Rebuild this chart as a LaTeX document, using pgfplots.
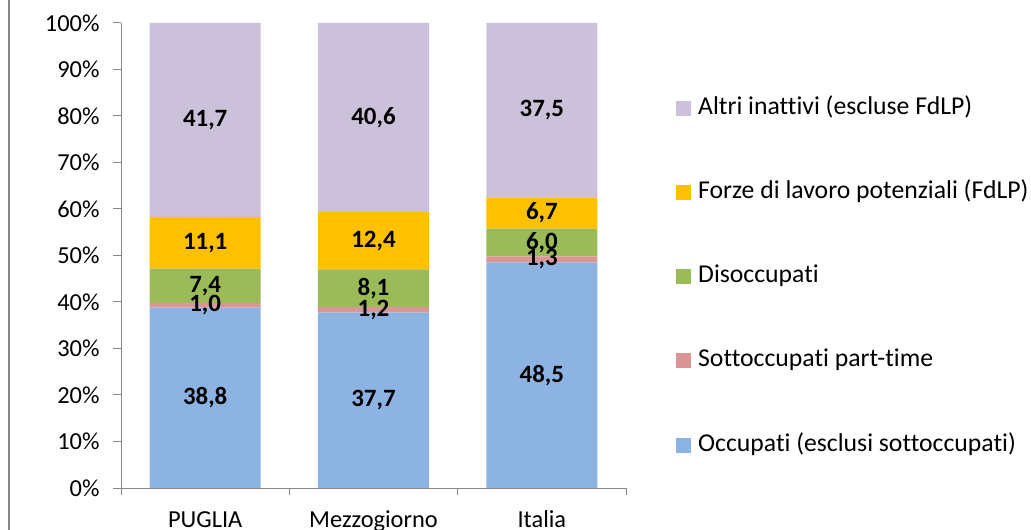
\documentclass[border=0pt]{standalone}
\usepackage{pgfplots}
\pgfplotsset{compat=1.18}
\usepackage{fontspec}
\setmainfont{Carlito}[Ligatures={NoCommon}]
\definecolor{cOcc}{HTML}{8DB3E2}
\definecolor{cSot}{HTML}{DA9694}
\definecolor{cDis}{HTML}{9BBB59}
\definecolor{cFdl}{HTML}{FFC000}
\definecolor{cAlt}{HTML}{CCC1DA}
\definecolor{axgray}{HTML}{868686}
\begin{document}
\begin{tikzpicture}
\useasboundingbox (0,0) rectangle (1031bp,530bp);
\draw[color=axgray, line width=1.3bp] (9bp,0) -- (9bp,530bp);
\begin{axis}[
  at={(121bp,42bp)}, anchor=south west,
  width=505bp, height=465bp, scale only axis,
  ybar stacked, bar width=0.66,
  xmin=-0.5, xmax=2.5, ymin=0, ymax=100,
  axis lines*=left,
  axis line style={axgray, line width=1bp, -},
  tick align=outside,
  xtick={0,1,2}, xticklabels={PUGLIA,Mezzogiorno,Italia},
  major x tick style={draw=none},
  minor xtick={-0.5,0.5,1.5,2.5},
  minor tick length=7bp,
  minor x tick style={axgray, line width=1bp},
  ytick={0,10,...,100},
  yticklabels={0\%,10\%,20\%,30\%,40\%,50\%,60\%,70\%,80\%,90\%,100\%},
  major tick length=8bp,
  ytick style={axgray, line width=1bp},
  tick label style={font=\fontsize{24.5}{24.5}\selectfont, text=black},
  xticklabel style={anchor=base, yshift=-31bp},
  yticklabel style={anchor=east, xshift=-10bp},
  reverse legend,
  legend cell align=left,
  legend image code/.code={\draw[#1,draw=none] (0bp,-7.5bp) rectangle (15bp,7.5bp);},
  legend style={at={(1.099,0.843)}, anchor=north west, draw=none, fill=none,
    font=\fontsize{25.8}{25.8}\selectfont, row sep=60.2bp, inner sep=0pt,
    nodes={inner sep=0pt, text height=18bp, text depth=6bp},
    /tikz/every odd column/.append style={column sep=7bp}},
]
\addplot[fill=cOcc, draw=none] coordinates {(0,38.8) (1,37.7) (2,48.5)};
\addlegendentry{Occupati (esclusi sottoccupati)}
\addplot[fill=cSot, draw=none] coordinates {(0,1.0) (1,1.2) (2,1.3)};
\addlegendentry{Sottoccupati part-time}
\addplot[fill=cDis, draw=none] coordinates {(0,7.4) (1,8.1) (2,6.0)};
\addlegendentry{Disoccupati}
\addplot[fill=cFdl, draw=none] coordinates {(0,11.1) (1,12.4) (2,6.7)};
\addlegendentry{Forze di lavoro potenziali (FdLP)}
\addplot[fill=cAlt, draw=none] coordinates {(0,41.7) (1,40.6) (2,37.5)};
\addlegendentry{Altri inattivi (escluse FdLP)}
\end{axis}
\begin{axis}[
  at={(121bp,42bp)}, anchor=south west,
  width=505bp, height=465bp, scale only axis,
  xmin=-0.5, xmax=2.5, ymin=0, ymax=100, hide axis,
]
\addplot[only marks, mark=none, point meta=explicit symbolic, nodes near coords,
  every node near coord/.append style={anchor=center, font=\bfseries\fontsize{25}{25}\selectfont}]
  coordinates {
  (0,19.4) [38,8] (0,39.3) [1,0] (0,43.5) [7,4] (0,52.75) [11,1] (0,79.15) [41,7]
  (1,18.85) [37,7] (1,38.3) [1,2] (1,42.95) [8,1] (1,53.2) [12,4] (1,79.7) [40,6]
  (2,24.25) [48,5] (2,49.15) [1,3] (2,52.8) [6,0] (2,59.15) [6,7] (2,81.25) [37,5]
  };
\end{axis}
\end{tikzpicture}
\end{document}
